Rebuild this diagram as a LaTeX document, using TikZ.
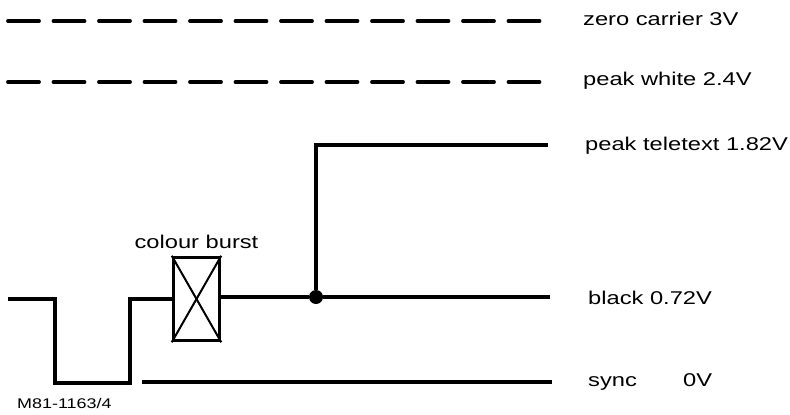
\documentclass[tikz,border=0pt]{standalone}
\usepackage{fontspec}
\setmainfont{Liberation Sans}[FakeStretch=1.28]
\begin{document}
\begin{tikzpicture}[x=1pt,y=-1pt,
  sig/.style={line width=3.5pt, line join=miter},
  dashline/.style={line width=3.8pt, line cap=round, dash pattern=on 31pt off 14.5pt},
  lbl/.style={anchor=base west, inner sep=0pt, font=\fontsize{18.5}{20}\selectfont},
  burstbox/.style={draw, line width=3.5pt, minimum width=46pt, minimum height=83pt, inner sep=0pt},
  junction/.style={circle, fill, inner sep=0pt, minimum size=14pt}]
\useasboundingbox (0,0) rectangle (790,415);
% dashed reference levels
\coordinate (z0) at (8,21);
\coordinate (z1) at (543,21);
\coordinate (w0) at (8,82);
\coordinate (w1) at (545,82);
\draw[dashline] (z0) -- (z1);
\draw[dashline] (w0) -- (w1);
% labels
\node[lbl] (lz) at (583,25) {zero carrier 3V};
\node[lbl] (lw) at (583,85) {peak white 2.4V};
\node[lbl] (lt) at (585,150) {peak teletext 1.82V};
\node[lbl] (lb) at (588,304) {black 0.72V};
\node[lbl] (ls) at (588,386) {sync};
\node[lbl] (lv) at (683,386) {0V};
\node[lbl, font=\fontsize{14}{16}\selectfont] (ref) at (17,408) {M81-1163/4};
% colour burst box
\node[burstbox] (cb) at (196.5,299) {};
\draw[line width=2pt] (cb.north west) -- (cb.south east);
\draw[line width=2pt] (cb.north east) -- (cb.south west);
\node[lbl, anchor=base] (cbl) at (cb.north |- 0,248) {colour burst};
% waveform
\coordinate (b0) at (8,299);
\coordinate (b1) at (55,299);
\coordinate (b2) at (55,383);
\coordinate (b3) at (130,383);
\coordinate (b4) at (130,299);
\draw[sig] (b0) -- (b1) -- (b2) -- (b3) -- (b4) -- (cb.west |- b4);
\node[junction] (dot) at (316,297) {};
\coordinate (bend) at (550,297);
\draw[sig] (cb.east |- dot) -- (dot) -- (bend);
\coordinate (t0) at (316,145);
\coordinate (t1) at (548,145);
\draw[sig] (dot) -- (t0) -- (t1);
% sync level
\coordinate (s0) at (142,382);
\coordinate (s1) at (552,382);
\draw[sig] (s0) -- (s1);
\end{tikzpicture}
\end{document}
